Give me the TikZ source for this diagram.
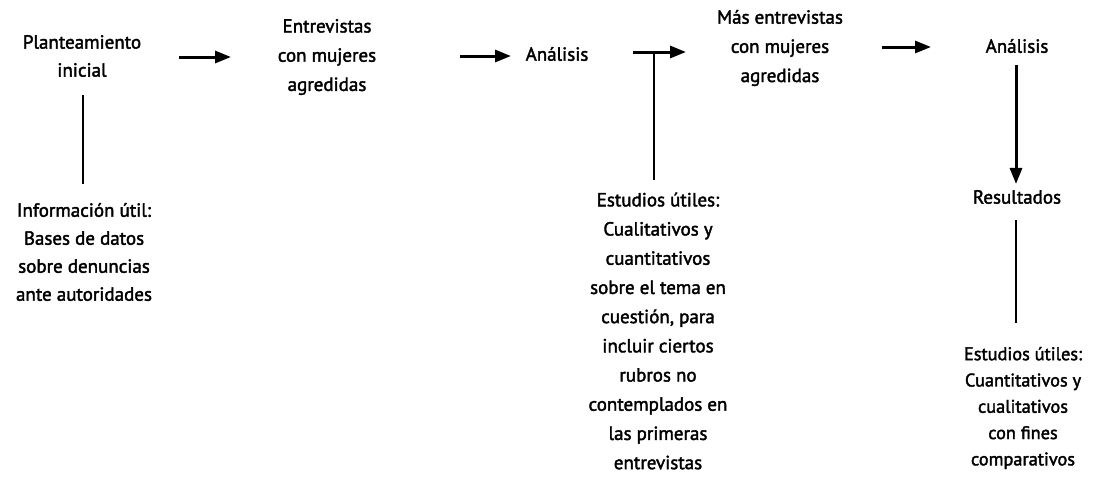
\documentclass[tikz,border=0pt]{standalone}
\usepackage{fontspec}
\setmainfont[FakeBold=2]{PT Sans}
\usetikzlibrary{arrows.meta}
\begin{document}
\begin{tikzpicture}[x=1pt,y=-1pt,
  lbl/.style={align=center,inner sep=0pt,font=\fontsize{19}{28}\selectfont},
  tall/.style={align=center,inner sep=0pt,font=\fontsize{19}{29.2}\selectfont},
  sml/.style={align=center,inner sep=0pt,font=\fontsize{18.3}{26.3}\selectfont},
  arr/.style={line width=3pt,-{Triangle[length=16pt,width=12pt]}},
  ln/.style={line width=2.8pt}]
\useasboundingbox (0,0) rectangle (1097,477);
\node[lbl] (plan) at (82,56) {Planteamiento\\inicial};
\node[tall] (entr) at (327,57) {Entrevistas\\con mujeres\\agredidas};
\node[lbl] (an1) at (557,54) {Análisis};
\node[tall] (mas) at (780,48) {Más entrevistas\\con mujeres\\agredidas};
\node[lbl] (an2) at (1017,46) {Análisis};
\node[lbl] (res) at (1017,197) {Resultados};
\node[lbl] (info) at (84,252) {Información útil:\\Bases de datos\\sobre denuncias\\ante autoridades};
\node[tall] (est1) at (658,331) {Estudios útiles:\\Cualitativos y\\cuantitativos\\sobre el tema en\\cuestión, para\\incluir ciertos\\rubros no\\contemplados en\\las primeras\\entrevistas};
\node[sml] (est2) at (1023,408) {Estudios útiles:\\Cuantitativos y\\cualitativos\\con fines\\comparativos};
% arrow end points
\coordinate (a1s) at (179,57); \coordinate (a1e) at (231,57);
\coordinate (a2s) at (460,56); \coordinate (a2e) at (511,56);
\coordinate (a3s) at (633,52); \coordinate (a3e) at (686,52);
\coordinate (t3) at (654,52);
\coordinate (a4s) at (882,47); \coordinate (a4e) at (931,47);
\draw[arr] (a1s) -- (a1e);
\draw[arr] (a2s) -- (a2e);
\draw[arr] (a3s) -- (a3e);
\draw[arr] (a4s) -- (a4e);
\draw[ln] (t3) -- ([yshift=12pt]t3 |- est1.north);
\draw[ln] ([yshift=-18pt]plan.south -| 83,0) -- ([yshift=19pt]info.north -| 83,0);
\draw[arr] ([yshift=-12pt]an2.south -| 1016,0) -- ([yshift=6pt]res.north -| 1016,0);
\draw[ln] ([yshift=-16pt]res.south -| 1016,0) -- ([yshift=24pt]est2.north -| 1016,0);
\end{tikzpicture}
\end{document}
